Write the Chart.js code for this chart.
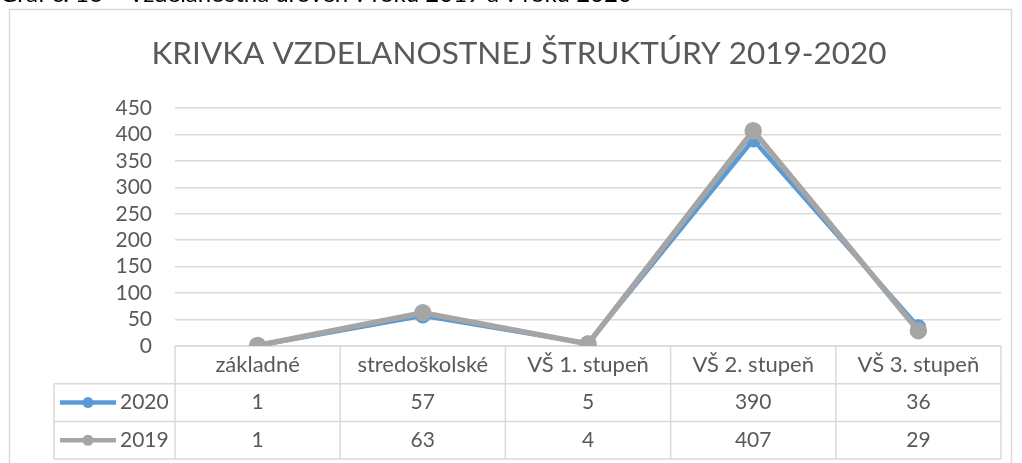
<!DOCTYPE html>
<html>
<head>
<meta charset="utf-8">
<script src="https://cdn.jsdelivr.net/npm/chart.js@4"></script>
<style>
  html, body { margin: 0; padding: 0; background: #fff; }
  #wrap { position: relative; width: 1022px; height: 463px; overflow: hidden; }
  #caption {
    position: absolute; left: 0; top: -19px; z-index: 2;
    font: 24px Lato, sans-serif; line-height: 24px; color: #000; white-space: nowrap;
  }
  canvas { position: absolute; left: 0; top: 0; }
</style>
</head>
<body>
<div id="wrap">
  <div id="caption">Graf č. 16 – Vzdelanostná úroveň v roku 2019 a v roku 2020</div>
  <canvas id="eduChart" width="1022" height="463"></canvas>
</div>
<script>
// ===== DATA =====
const categories = ['základné', 'stredoškolské', 'VŠ 1. stupeň', 'VŠ 2. stupeň', 'VŠ 3. stupeň'];
const values2020 = [1, 57, 5, 390, 36];
const values2019 = [1, 63, 4, 407, 29];
const yTicks = [0, 50, 100, 150, 200, 250, 300, 350, 400, 450];
const chartTitle = 'KRIVKA VZDELANOSTNEJ ŠTRUKTÚRY 2019-2020';

const BLUE = '#5b9bd5';
const GREY = '#a5a5a5';
const LINE = '#d9d9d9';
const TEXT = '#595959';
const FONT = 'Lato, sans-serif';

// background, outer border and title
const frame = {
    id: 'frame',
    beforeDraw(chart) {
        const c = chart.ctx;
        c.save();
        c.fillStyle = '#fff';
        c.fillRect(0, 0, chart.width, chart.height);
        c.strokeStyle = LINE;
        c.lineWidth = 1.5;
        c.strokeRect(9.5, 9.5, 1002, 470);
        c.fillStyle = TEXT;
        c.font = '31.5px ' + FONT;
        c.textAlign = 'center';
        c.textBaseline = 'middle';
        c.fillText(chartTitle, 519, 54);
        c.restore();
    }
};

// data table under the plot, using the x scale for columns
const dataTable = {
    id: 'dataTable',
    beforeDatasetsDraw(chart) {
        const c = chart.ctx;
        const area = chart.chartArea;
        const xs = chart.scales.x;
        const n = categories.length;
        const colW = (area.right - area.left) / n;
        const rowH = 37.7;
        const top = area.bottom;
        const legendLeft = 54;
        const rows = [
            { label: '2020', color: BLUE, vals: values2020 },
            { label: '2019', color: GREY, vals: values2019 }
        ];
        c.save();
        c.strokeStyle = LINE;
        c.lineWidth = 1.5;
        c.beginPath();
        c.moveTo(area.left, top); c.lineTo(area.right, top);
        for (let r = 1; r <= rows.length + 1; r++) {
            c.moveTo(legendLeft, top + r * rowH);
            c.lineTo(area.right, top + r * rowH);
        }
        for (let i = 0; i <= n; i++) {
            const x = area.left + i * colW;
            c.moveTo(x, top);
            c.lineTo(x, top + (rows.length + 1) * rowH);
        }
        c.moveTo(legendLeft, top + rowH);
        c.lineTo(legendLeft, top + (rows.length + 1) * rowH);
        c.stroke();

        c.fillStyle = TEXT;
        c.font = '22px ' + FONT;
        c.textAlign = 'center';
        c.textBaseline = 'middle';
        categories.forEach((cat, i) => {
            c.fillText(cat, xs.getPixelForValue(i), top + rowH / 2);
        });
        c.font = '21px ' + FONT;
        rows.forEach((row, r) => {
            const y = top + (r + 1.5) * rowH;
            row.vals.forEach((v, i) => {
                c.fillStyle = TEXT;
                c.fillText(String(v), xs.getPixelForValue(i), y);
            });
            // legend key
            c.strokeStyle = row.color;
            c.lineWidth = 4.5;
            c.beginPath();
            c.moveTo(60, y); c.lineTo(116, y);
            c.stroke();
            c.fillStyle = row.color;
            c.beginPath();
            c.arc(88, y, 5.5, 0, Math.PI * 2);
            c.fill();
            c.fillStyle = TEXT;
            c.textAlign = 'left';
            c.fillText(row.label, 120, y);
            c.textAlign = 'center';
        });
        c.restore();
    }
};

new Chart(document.getElementById('eduChart'), {
    type: 'line',
    data: {
        labels: categories,
        datasets: [
            {
                label: '2020',
                data: values2020,
                borderColor: BLUE,
                backgroundColor: BLUE,
                pointBackgroundColor: BLUE,
                pointBorderColor: BLUE,
                borderWidth: 4.5,
                pointRadius: 5.5,
                tension: 0,
                order: 2
            },
            {
                label: '2019',
                data: values2019,
                borderColor: GREY,
                backgroundColor: GREY,
                pointBackgroundColor: GREY,
                pointBorderColor: GREY,
                borderWidth: 5.5,
                pointRadius: 6,
                tension: 0,
                order: 1
            }
        ]
    },
    options: {
        responsive: false,
        animation: false,
        layout: { padding: { top: 108, bottom: 117, left: 0, right: 21 } },
        plugins: {
            legend: { display: false },
            tooltip: { enabled: false },
            title: { display: false }
        },
        scales: {
            x: {
                type: 'category',
                offset: true,
                display: false
            },
            y: {
                min: 0,
                max: 450,
                afterBuildTicks: s => { s.ticks = yTicks.map(v => ({ value: v })); },
                afterFit: s => { s.width = 175; },
                border: { display: false },
                grid: { color: LINE, lineWidth: 1.5, drawTicks: false },
                ticks: {
                    color: TEXT,
                    autoSkip: false,
                    font: { family: FONT, size: 21 },
                    padding: 23
                }
            }
        }
    },
    plugins: [frame, dataTable]
});
</script>
</body>
</html>
